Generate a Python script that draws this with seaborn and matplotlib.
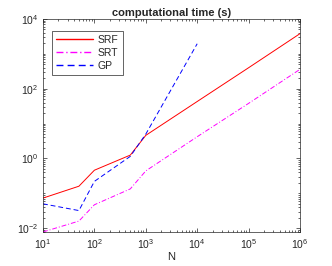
import numpy as np
import pandas as pd
import matplotlib
matplotlib.use("Agg")
import matplotlib.pyplot as plt
import matplotlib.ticker as mticker
from matplotlib.lines import Line2D
import seaborn as sns

srf_n = [10, 50, 100, 500, 1000, 1e4, 1e5, 1e6]
srf_t = [0.073, 0.16, 0.46, 1.25, 4.6, 43, 400, 3800]

srt_n = [10, 50, 100, 500, 1000, 1e4, 1e5, 1e6]
srt_t = [0.0078, 0.016, 0.047, 0.134, 0.44, 4.2, 38, 360]

gp_n = [10, 50, 100, 500, 1000, 1e4]
gp_t = [0.05, 0.032, 0.22, 1.15, 5.0, 1950]

names = ["SRF", "SRT", "GP"]
colors = ["#ff0000", "#ff00ff", "#0000ff"]
styles = ["-", (0, (5, 2, 1, 2)), (0, (5, 3))]

sns.set_style("ticks")
plt.rcParams["font.family"] = ["Liberation Sans", "DejaVu Sans"]
plt.rcParams["axes.edgecolor"] = "#262626"
plt.rcParams["xtick.color"] = "#262626"
plt.rcParams["ytick.color"] = "#262626"

fig = plt.figure(figsize=(3.32, 2.66), dpi=100)
ax = fig.add_axes([0.1295, 0.128, 0.7741, 0.8006])

for (xs, ys), c, ls in zip([(srf_n, srf_t), (srt_n, srt_t), (gp_n, gp_t)], colors, styles):
    sns.lineplot(x=xs, y=ys, ax=ax, color=c, lw=0.7, legend=False, linestyle=ls)

ax.set_xscale("log")
ax.set_yscale("log")
ax.set_xlim(10, 1e6)
ax.set_ylim(0.0078, 1e4)

ax.xaxis.set_major_locator(mticker.LogLocator(base=10, numticks=10))
ax.yaxis.set_major_locator(mticker.FixedLocator([1e-2, 1, 1e2, 1e4]))
ax.xaxis.set_minor_locator(mticker.LogLocator(base=10, subs=np.arange(2, 10), numticks=20))
ax.yaxis.set_minor_locator(mticker.LogLocator(base=10, subs=np.arange(1, 10), numticks=20))
ax.yaxis.set_minor_formatter(mticker.NullFormatter())
ax.xaxis.set_minor_formatter(mticker.NullFormatter())

ax.tick_params(which="both", direction="in", top=True, right=True, labelsize=7.5, width=0.5)
ax.tick_params(which="major", length=3)
ax.tick_params(which="minor", length=1.6)
for s in ax.spines.values():
    s.set_linewidth(0.5)

ax.set_title("computational time (s)", fontsize=8, fontweight="bold", pad=2)
ax.set_xlabel("N", fontsize=8, labelpad=1)
ax.set_ylabel("")

handles = [Line2D([], [], color=c, lw=1.0, linestyle=ls, snap=False)
           for c, ls in zip(colors, styles)]
leg = ax.legend(handles, names, loc="upper left",
                bbox_to_anchor=(0.015, 0.97), fontsize=7.5,
                fancybox=False, edgecolor="#262626", framealpha=1,
                handlelength=3.5, borderpad=0.4, labelspacing=0.3, handletextpad=0.5)
leg.get_frame().set_linewidth(0.5)

fig.savefig("out.png", dpi=100)
